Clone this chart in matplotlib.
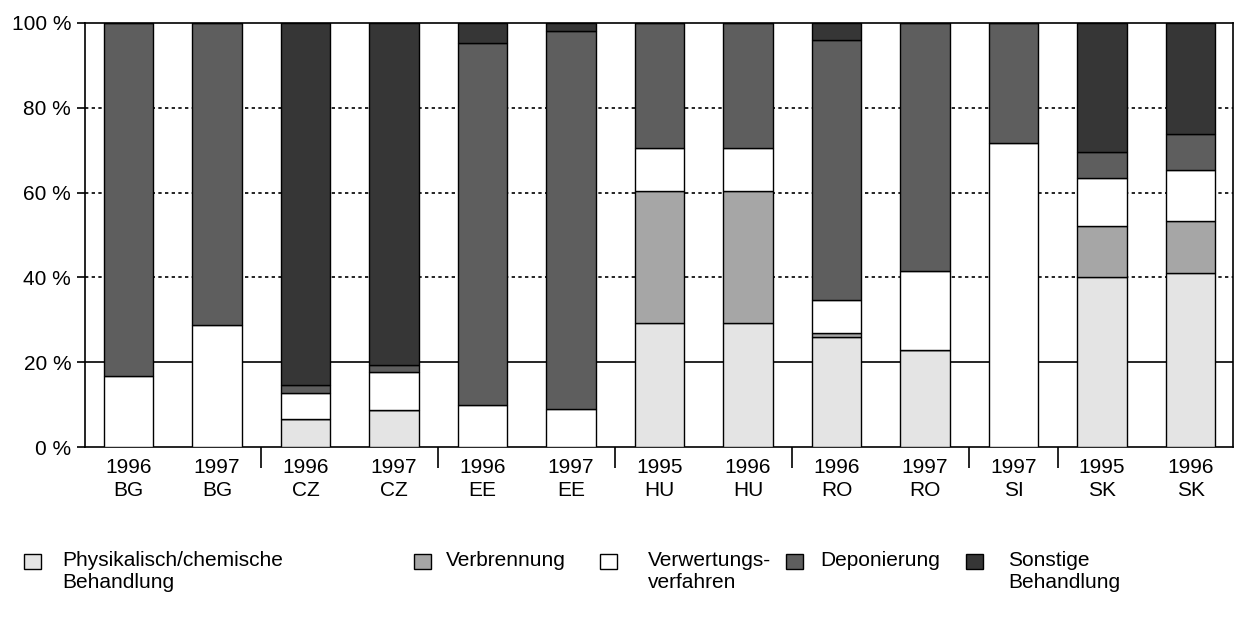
import matplotlib.pyplot as plt
from matplotlib.patches import Rectangle

plt.rcParams['font.family'] = ['Liberation Sans', 'DejaVu Sans']

# categories (year / country)
years = ["1996", "1997", "1996", "1997", "1996", "1997", "1995", "1996",
         "1996", "1997", "1997", "1995", "1996"]
countries = ["BG", "BG", "CZ", "CZ", "EE", "EE", "HU", "HU",
             "RO", "RO", "SI", "SK", "SK"]

# shares in percent, bottom to top
physchem = [0, 0, 6.6, 8.8, 0, 0, 29.3, 29.2, 26.0, 22.9, 0, 40.2, 41.1]
verbrennung = [0, 0, 0, 0, 0, 0, 31.1, 31.2, 1.0, 0, 0, 12.0, 12.3]
verwertung = [16.8, 28.8, 6.2, 9.0, 9.8, 8.9, 10.1, 10.1, 7.7, 18.7, 71.8, 11.2, 11.9]
deponierung = [83.2, 71.2, 1.8, 1.5, 85.4, 89.3, 29.5, 29.5, 61.3, 58.4, 28.2, 6.2, 8.5]
sonstige = [0, 0, 85.4, 80.7, 4.8, 1.8, 0, 0, 4.0, 0, 0, 30.4, 26.2]

labels = ["Physikalisch/chemische\nBehandlung", "Verbrennung",
          "Verwertungs-\nverfahren", "Deponierung", "Sonstige\nBehandlung"]
colors = ["#e4e4e4", "#a6a6a6", "#ffffff", "#5e5e5e", "#363636"]

# separators between countries
group_edges = [1.5, 3.5, 5.5, 7.5, 9.5, 10.5]
yticks = [0, 20, 40, 60, 80, 100]

fig = plt.figure(figsize=(12.36, 6.28), dpi=100)
ax = fig.add_axes([0.0688, 0.2882, 0.9288, 0.6752])

x = list(range(len(years)))
series = [physchem, verbrennung, verwertung, deponierung, sonstige]
bottom = [0] * len(x)
for vals, col in zip(series, colors):
    ax.bar(x, vals, 0.56, bottom=bottom, color=col, edgecolor="black",
           linewidth=1.0, zorder=3)
    bottom = [b + v for b, v in zip(bottom, vals)]

# grid: 20 % solid, others dotted
for t in yticks[1:-1]:
    if t == 20:
        ax.axhline(t, color="black", lw=1.2, zorder=1)
    else:
        ax.axhline(t, color="black", lw=1.2, ls=(0, (2, 2)), zorder=1)

ax.set_xlim(-0.49, 12.48)
ax.set_ylim(0, 100)
ax.set_yticks(yticks)
ax.set_yticklabels([f"{t} %" for t in yticks], fontsize=15)
ax.set_xticks(x)
ax.set_xticklabels([f"{a}\n{b}" for a, b in zip(years, countries)], fontsize=15,
                   linespacing=1.25)
ax.set_xticks(group_edges, minor=True)
ax.tick_params(axis="x", which="major", length=0, pad=8)
ax.tick_params(axis="x", which="minor", length=15, width=1.2, direction="out")
ax.tick_params(axis="y", length=6, width=1.2, pad=4)
for s in ax.spines.values():
    s.set_linewidth(1.2)

# legend below the chart
leg_x = [24, 414, 600, 786, 966]
txt_x = [62, 446, 648, 820, 1008]
for lx, tx, lab, col in zip(leg_x, txt_x, labels, colors):
    fig.add_artist(Rectangle((lx / 1236, 1 - 569 / 628), 17 / 1236, 15 / 628,
                             transform=fig.transFigure, facecolor=col,
                             edgecolor="black", lw=1.0))
    fig.text(tx / 1236, 1 - 551 / 628, lab, fontsize=15, va="top", ha="left",
             linespacing=1.2)

fig.savefig("out.png", dpi=100)
